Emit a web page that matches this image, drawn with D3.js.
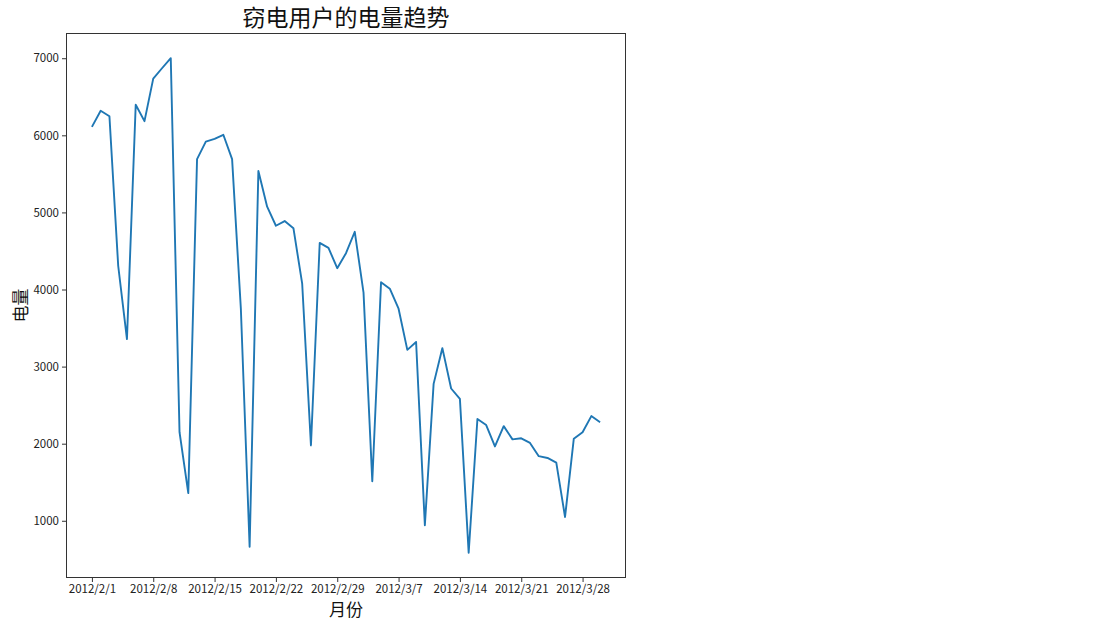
<!DOCTYPE html>
<html>
<head>
<meta charset="utf-8">
<script src="https://cdn.jsdelivr.net/npm/d3@7/dist/d3.min.js"></script>
<style>
  html, body { margin: 0; padding: 0; background: #fff; }
  svg { display: block; }
</style>
</head>
<body>
<svg id="chart" width="1108" height="622"></svg>
<script>
// ---- data ----
const title = "窃电用户的电量趋势";
const xLabel = "月份";
const yLabel = "电量";
const startDate = "2012-02-01";
const values = [
  6109, 6318, 6248, 4308, 3357, 6397, 6184, 6735, 6870, 7000,
  2149, 1359, 5691, 5919, 5955, 6007, 5691, 3750, 663, 5538,
  5074, 4827, 4888, 4795, 4075, 1978, 4604, 4540, 4276, 4471,
  4749, 3960, 1513, 4095, 4011, 3751, 3217, 3319, 942, 2776,
  3240, 2716, 2581, 585, 2320, 2242, 1964, 2228, 2056, 2070,
  2010, 1838, 1815, 1755, 1049, 2065, 2149, 2358, 2279
];
const xTickLabels = ["2012/2/1", "2012/2/8", "2012/2/15", "2012/2/22", "2012/2/29",
                     "2012/3/7", "2012/3/14", "2012/3/21", "2012/3/28"];
const yTickValues = [1000, 2000, 3000, 4000, 5000, 6000, 7000];

(function () {
// ---- build series ----
const parse = d3.timeParse("%Y-%m-%d");
const t0 = parse(startDate);
const series = values.map((v, i) => ({ date: d3.timeDay.offset(t0, i), value: v }));
const tickDates = xTickLabels.map(s => d3.timeParse("%Y/%m/%d")(s));

// ---- layout ----
const svg = d3.select("#chart");
const pL = 66.5, pR = 625.5, pT = 33.5, pB = 577.5;

const dMin = d3.min(series, d => d.date), dMax = d3.max(series, d => d.date);
const span = dMax - dMin;
const x = d3.scaleTime()
  .domain([new Date(+dMin - span * 0.05), new Date(+dMax + span * 0.05)])
  .range([pL, pR]);

const vMin = d3.min(values), vMax = d3.max(values);
const vr = vMax - vMin;
const y = d3.scaleLinear()
  .domain([vMin - vr * 0.05, vMax + vr * 0.05])
  .range([pB, pT]);

const font = "'Noto Sans CJK SC', 'Noto Sans', sans-serif";
const fmt = d3.timeFormat("%Y/%-m/%-d");

// x axis
const gx = svg.append("g")
  .attr("transform", `translate(0,${pB})`)
  .call(d3.axisBottom(x).tickValues(tickDates).tickFormat(fmt).tickSize(4.5).tickPadding(3));
gx.select(".domain").remove();
gx.selectAll("text").attr("font-family", font).attr("font-size", 11.5).attr("fill", "#222");
gx.selectAll("line").attr("stroke", "#333");

// y axis
const gy = svg.append("g")
  .attr("transform", `translate(${pL},0)`)
  .call(d3.axisLeft(y).tickValues(yTickValues).tickFormat(d3.format("d")).tickSize(4.5).tickPadding(3));
gy.select(".domain").remove();
gy.selectAll("text").attr("font-family", font).attr("font-size", 11.5).attr("fill", "#222");
gy.selectAll("line").attr("stroke", "#333");

// line
const line = d3.line().x(d => x(d.date)).y(d => y(d.value));
svg.append("path")
  .datum(series)
  .attr("fill", "none")
  .attr("stroke", "#1f77b4")
  .attr("stroke-width", 1.9)
  .attr("stroke-linejoin", "round")
  .attr("d", line);

// frame
svg.append("rect")
  .attr("x", pL).attr("y", pT)
  .attr("width", pR - pL).attr("height", pB - pT)
  .attr("fill", "none").attr("stroke", "#333").attr("stroke-width", 1);

// title
svg.append("text")
  .attr("x", (pL + pR) / 2).attr("y", 26)
  .attr("text-anchor", "middle")
  .attr("font-family", font).attr("font-size", 23)
  .attr("fill", "#111")
  .text(title);

// x label
svg.append("text")
  .attr("x", (pL + pR) / 2).attr("y", 616)
  .attr("text-anchor", "middle")
  .attr("font-family", font).attr("font-size", 17)
  .attr("fill", "#111")
  .text(xLabel);

// y label
svg.append("text")
  .attr("transform", `translate(27,${(pT + pB) / 2}) rotate(-90)`)
  .attr("text-anchor", "middle")
  .attr("font-family", font).attr("font-size", 17)
  .attr("fill", "#111")
  .text(yLabel);
})();
</script>
</body>
</html>
